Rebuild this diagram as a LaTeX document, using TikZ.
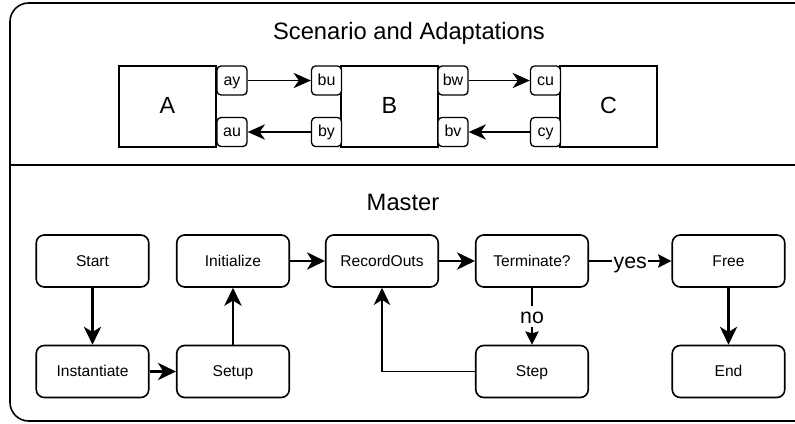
\documentclass[tikz,border=0pt]{standalone}
\usepackage{fontspec}
\setmainfont{Liberation Sans}
\usetikzlibrary{arrows.meta}
\begin{document}
\begin{tikzpicture}[x=0.75pt,y=-0.75pt,
  fmu/.style={draw, line width=1pt, minimum width=72.75pt, minimum height=60.75pt,
    inner sep=0pt, text height=12.5pt, text depth=2.3pt,
    font=\fontsize{17.5}{20}\selectfont},
  port/.style={draw, fill=white, rounded corners=3pt, line width=1pt,
    minimum width=22.5pt, minimum height=21.75pt, inner sep=0pt,
    text height=8.5pt, text depth=1.7pt, font=\fontsize{12}{14}\selectfont},
  proc/.style={draw, rounded corners=6pt, line width=1.2pt, minimum width=84.4pt,
    minimum height=39pt, inner sep=0pt, text height=9pt, text depth=1.5pt,
    font=\fontsize{11.7}{14}\selectfont},
  heading/.style={inner sep=0pt, anchor=base, font=\fontsize{17.8}{21}\selectfont},
  link/.style={-{Stealth[length=13pt,width=11.5pt,inset=4pt]}, line width=1pt},
  flowthick/.style={-{Stealth[length=13.5pt,width=13pt,inset=4pt]}, line width=1.75pt},
  flowthin/.style={-{Stealth[length=13pt,width=12.5pt,inset=4pt]}, line width=1pt},
  branch/.style={-{Stealth[length=10pt,width=10pt,inset=1.5pt]}, line width=1pt},
  edgelabel/.style={fill=white, inner sep=1pt, text height=12.5pt, text depth=1.5pt,
    font=\fontsize{16}{19}\selectfont}
]
\clip (0,0) rectangle (795,424);

% container with its two lanes
\draw[line width=1.2pt, rounded corners=14pt] (10,3) rectangle (840,421);
\coordinate (divL) at (10,165);
\coordinate (divR) at (840,165);
\draw[line width=1.2pt] (divL) -- (divR);

% scenario lane
\node[heading] (scntitle) at (409,40) {Scenario and Adaptations};
\node[fmu] (A) at (167.5,106.5) {A};
\node[fmu] (B) at (389.5,106.5) {B};
\node[fmu] (C) at (608.5,106.5) {C};

\node[port] (ay) at (232,80.5) {ay};
\node[port] (au) at (232,132) {au};
\node[port] (bu) at (326.5,80.5) {bu};
\node[port] (by) at (326.5,132) {by};
\node[port] (bw) at (453,80.5) {bw};
\node[port] (bv) at (453,132) {bv};
\node[port] (cu) at (545.5,80.5) {cu};
\node[port] (cy) at (545.5,132) {cy};

\draw[link] (ay) -- (bu);
\draw[link] (by) -- (au);
\draw[link] (bw) -- (cu);
\draw[link] (cy) -- (bv);

% master algorithm lane
\node[heading] (mtitle) at (403,210) {Master};
\node[proc] (start) at (92.5,261) {Start};
\node[proc] (inst) at (92.5,371.5) {Instantiate};
\node[proc] (init) at (233,261) {Initialize};
\node[proc] (setup) at (233,371.5) {Setup};
\node[proc] (rec) at (382,261) {RecordOuts};
\node[proc] (term) at (532,261) {Terminate?};
\node[proc] (step) at (532,371.5) {Step};
\node[proc] (free) at (728.5,261) {Free};
\node[proc] (end) at (728.5,371.5) {End};

\draw[flowthick] (start) -- (inst);
\draw[flowthick] (inst) -- (setup);
\draw[flowthick] (setup) -- (init);
\draw[flowthick] (init) -- (rec);
\draw[flowthick] (rec) -- (term);
\draw[branch] (term) -- node[edgelabel] {yes} (free);
\draw[branch] (term) -- node[edgelabel] {no} (step);
\draw[flowthin] (step.west) -| (rec.south);
\draw[flowthick] (free) -- (end);
\end{tikzpicture}
\end{document}
